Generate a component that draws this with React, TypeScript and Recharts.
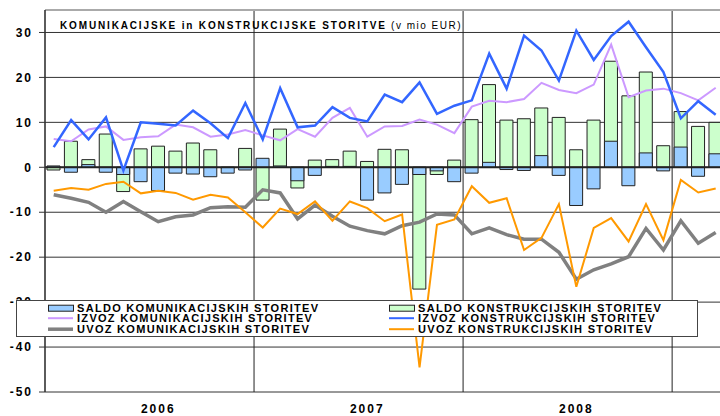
import React from 'react';
import { ComposedChart, Bar, Line, XAxis, YAxis, CartesianGrid, ReferenceLine, Legend } from 'recharts';

const months = [
  '2006-01', '2006-02', '2006-03', '2006-04', '2006-05', '2006-06', '2006-07', '2006-08', '2006-09', '2006-10', '2006-11', '2006-12',
  '2007-01', '2007-02', '2007-03', '2007-04', '2007-05', '2007-06', '2007-07', '2007-08', '2007-09', '2007-10', '2007-11', '2007-12',
  '2008-01', '2008-02', '2008-03', '2008-04', '2008-05', '2008-06', '2008-07', '2008-08', '2008-09', '2008-10', '2008-11', '2008-12',
  '2009-01', '2009-02', '2009-03',
];

const saldoKom = [0.3, -1.1, 0.6, -1.1, -1.6, -3.2, -5.2, -1.3, -1.5, -2.1, -1.3, -0.6, 2.0, 0.3, -3.0, -1.8, 0.2, 0.2, -7.3, -5.7, -3.8, -1.6, -0.8, -3.2, -1.3, 1.1, -0.5, -0.7, 2.6, -1.8, -8.5, -4.8, 5.8, -4.1, 3.2, -0.8, 4.5, -2.0, 3.0];
const izvozKom = [6.3, 5.8, 8.4, 9.1, 6.1, 6.7, 6.9, 9.5, 8.9, 6.8, 7.3, 8.3, 7.1, 6.0, 8.5, 6.8, 11.0, 13.2, 6.8, 9.1, 9.2, 10.6, 9.5, 7.6, 13.5, 14.8, 14.5, 15.2, 18.8, 17.2, 16.5, 18.4, 27.3, 15.6, 17.1, 17.5, 16.5, 14.9, 17.7];
const uvozKom = [-6.1, -6.9, -7.8, -10.0, -7.6, -9.9, -12.1, -11.0, -10.6, -9.0, -8.8, -8.9, -5.0, -5.7, -11.5, -8.4, -10.9, -13.1, -14.1, -14.8, -13.0, -12.2, -10.4, -10.6, -14.8, -13.5, -15.0, -16.0, -16.0, -18.9, -24.9, -22.8, -21.5, -19.9, -13.6, -18.4, -11.9, -16.9, -14.5];
const saldoKon = [-0.6, 5.8, 1.7, 7.4, -5.4, 4.1, 4.7, 3.6, 5.4, 3.9, -0.2, 4.2, -7.3, 8.5, -4.6, 1.6, 1.7, 3.6, 1.3, 4.0, 3.9, -27.1, -1.6, 1.6, 10.6, 18.4, 10.5, 10.8, 13.2, 11.1, 3.9, 10.5, 23.6, 15.9, 21.2, 4.8, 12.4, 9.1, 10.0];
const izvozKon = [4.5, 10.5, 6.2, 11.1, -0.7, 10.0, 9.7, 9.3, 12.6, 9.8, 6.5, 14.3, 6.2, 17.6, 8.9, 9.3, 13.4, 11.0, 10.2, 16.2, 14.5, 18.9, 11.9, 13.7, 14.9, 25.3, 17.5, 29.3, 26.0, 19.3, 30.4, 23.9, 29.2, 32.4, 26.7, 21.2, 10.9, 14.7, 11.7];
const uvozKon = [-5.2, -4.6, -5.0, -3.7, -3.2, -5.8, -5.2, -5.7, -7.2, -6.1, -6.7, -10.0, -13.4, -9.2, -10.4, -7.6, -11.9, -7.6, -9.1, -12.0, -10.5, -44.5, -12.8, -11.6, -4.2, -7.9, -6.9, -18.4, -15.7, -8.2, -26.6, -13.5, -11.3, -16.5, -8.2, -16.2, -2.8, -5.6, -4.7];

const yearTicks = ['2006-07', '2007-07', '2008-07'];
const yearLabels = ['2006', '2007', '2008'];
const yearStarts = ['2007-01', '2008-01', '2009-01'];
const yTicks = [-50, -40, -30, -20, -10, 0, 10, 20, 30];

const names = {
  saldoKom: 'SALDO KOMUNIKACIJSKIH STORITEV',
  izvozKom: 'IZVOZ KOMUNIKACIJSKIH STORITEV',
  uvozKom: 'UVOZ KOMUNIKACIJSKIH STORITEV',
  saldoKon: 'SALDO KONSTRUKCIJSKIH STORITEV',
  izvozKon: 'IZVOZ KONSTRUKCIJSKIH STORITEV',
  uvozKon: 'UVOZ KONSTRUKCIJSKIH STORITEV',
};

const data = months.map((m, i) => ({
  m,
  saldoKom: saldoKom[i],
  izvozKom: izvozKom[i],
  uvozKom: uvozKom[i],
  saldoKon: saldoKon[i],
  izvozKon: izvozKon[i],
  uvozKon: uvozKon[i],
}));

const FONT = '"Liberation Sans", Arial, sans-serif';

const legendLayout: Record<string, { col: number; row: number; kind: 'rect' | 'line'; w?: number }> = {
  saldoKom: { col: 0, row: 0, kind: 'rect' },
  izvozKom: { col: 0, row: 1, kind: 'line', w: 2 },
  uvozKom: { col: 0, row: 2, kind: 'line', w: 3.5 },
  saldoKon: { col: 1, row: 0, kind: 'rect' },
  izvozKon: { col: 1, row: 1, kind: 'line', w: 2 },
  uvozKon: { col: 1, row: 2, kind: 'line', w: 2 },
};

const colX = [31, 372];

function LegendBox(props: any) {
  const payload = props.payload || [];
  return (
    <div
      style={{
        position: 'absolute',
        left: 0,
        top: 0,
        width: 682,
        height: 37,
        boxSizing: 'border-box',
        border: '1.5px solid #444',
        background: '#fff',
        fontFamily: FONT,
      }}
    >
      {payload.map((entry: any) => {
        const key = entry.dataKey as string;
        const lay = legendLayout[key];
        if (!lay) return null;
        const color = entry.color;
        return (
          <div
            key={key}
            style={{
              position: 'absolute',
              left: colX[lay.col],
              top: 1.8 + lay.row * 10.5,
              height: 10.5,
              whiteSpace: 'nowrap',
            }}
          >
            <svg width={26} height={10.5} style={{ position: 'absolute', left: 0, top: 0 }}>
              {lay.kind === 'rect' ? (
                <rect x={0.5} y={2.2} width={25} height={6} fill={color} stroke="#222" strokeWidth={1} />
              ) : (
                <line x1={0} x2={25} y1={5.2} y2={5.2} stroke={color} strokeWidth={lay.w} />
              )}
            </svg>
            <span
              style={{
                position: 'absolute',
                left: 29,
                top: 0,
                fontSize: 11,
                lineHeight: '10.5px',
                fontWeight: 'bold',
                letterSpacing: 1.3,
                color: '#000',
              }}
            >
              {entry.value}
            </span>
          </div>
        );
      })}
    </div>
  );
}

const tickStyle = { fontSize: 12, fontWeight: 'bold', fill: '#000', fontFamily: FONT, letterSpacing: 2 };

export default function App() {
  return (
    <div style={{ position: 'absolute', left: 0, top: 0, width: 720, height: 416, overflow: 'hidden', background: '#fff' }}>
      <ComposedChart
        width={740}
        height={416}
        data={data}
        margin={{ top: 10, right: 15.6, bottom: 0, left: 0 }}
        barSize={13}
        barGap={-13}
      >
        <CartesianGrid horizontal vertical={false} stroke="#333" strokeWidth={1} />
        <XAxis
          dataKey="m"
          ticks={yearTicks}
          interval={0}
          tickFormatter={(v: string) => yearLabels[yearTicks.indexOf(v)] ?? ''}
          axisLine={false}
          tickLine={false}
          tickSize={0}
          tickMargin={12}
          height={24}
          tick={tickStyle}
        />
        <YAxis
          domain={[-50, 35]}
          ticks={yTicks}
          interval={0}
          width={45}
          axisLine={{ stroke: '#333', strokeWidth: 1.6 }}
          tickLine={{ stroke: '#333', strokeWidth: 1 }}
          tickSize={6}
          tickMargin={6}
          tick={tickStyle}
        />
        {yearStarts.map((m) => (
          <ReferenceLine key={m} x={m} position="start" stroke="#222" strokeWidth={1} />
        ))}
        <ReferenceLine y={35} stroke="#aaaaaa" strokeWidth={2} />
        <Bar dataKey="saldoKon" name={names.saldoKon} fill="#CCFFCC" stroke="#222" strokeWidth={1} isAnimationActive={false} />
        <Bar dataKey="saldoKom" name={names.saldoKom} fill="#99CCFF" stroke="#222" strokeWidth={1} isAnimationActive={false} />
        <ReferenceLine y={0} stroke="#222" strokeWidth={2} />
        <Line type="linear" dataKey="izvozKom" name={names.izvozKom} stroke="#CC99FF" strokeWidth={2} dot={false} isAnimationActive={false} />
        <Line type="linear" dataKey="uvozKom" name={names.uvozKom} stroke="#808080" strokeWidth={3.5} dot={false} isAnimationActive={false} />
        <Line type="linear" dataKey="izvozKon" name={names.izvozKon} stroke="#3366FF" strokeWidth={2.5} dot={false} isAnimationActive={false} />
        <Line type="linear" dataKey="uvozKon" name={names.uvozKon} stroke="#FF9900" strokeWidth={2} dot={false} isAnimationActive={false} />
        <Legend
          layout="horizontal"
          verticalAlign="middle"
          align="center"
          content={<LegendBox />}
          wrapperStyle={{ left: 16, top: 300, width: 682, height: 37 }}
        />
      </ComposedChart>
      <div
        style={{
          position: 'absolute',
          left: 60,
          top: 21,
          fontFamily: FONT,
          fontSize: 10,
          lineHeight: '10px',
          letterSpacing: 1.85,
          color: '#000',
          whiteSpace: 'nowrap',
        }}
      >
        <span style={{ fontWeight: 'bold' }}>KOMUNIKACIJSKE in KONSTRUKCIJSKE STORITVE</span>
        <span style={{ letterSpacing: 1.5 }}> (v mio EUR)</span>
      </div>
    </div>
  );
}
